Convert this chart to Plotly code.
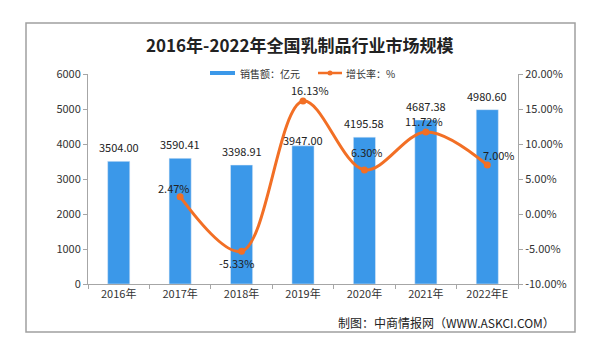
import plotly.graph_objects as go

categories = ["2016年", "2017年", "2018年", "2019年", "2020年", "2021年", "2022年E"]
sales = [3504.00, 3590.41, 3398.91, 3947.00, 4195.58, 4687.38, 4980.60]
growth_cats = ["2017年", "2018年", "2019年", "2020年", "2021年", "2022年E"]
growth = [2.47, -5.33, 16.13, 6.30, 11.72, 7.00]
left_ticks = [0, 1000, 2000, 3000, 4000, 5000, 6000]
right_ticks = [-10, -5, 0, 5, 10, 15, 20]

BAR = "#3b98e9"
LINE = "#f26f25"
FONT = "Noto Sans CJK SC"

fig = go.Figure()
fig.add_trace(go.Bar(x=categories, y=sales, marker_color=BAR, width=0.36,
                     showlegend=False, hoverinfo="skip"))
fig.add_trace(go.Scatter(x=growth_cats, y=growth, yaxis="y2", mode="lines+markers",
                         line=dict(color=LINE, width=3, shape="spline", smoothing=1.0),
                         marker=dict(color=LINE, size=7), showlegend=False,
                         hoverinfo="skip"))

annotations = []
bar_shift = [4, 4, 4, -4, 4, 4, 4]
for c, v, s in zip(categories, sales, bar_shift):
    annotations.append(dict(x=c, y=v, xref="x", yref="y", text=f"{v:.2f}",
                            showarrow=False, yanchor="bottom", yshift=s,
                            font=dict(size=11, color="#222", family=FONT)))
line_off = [(-6, 9), (-5, -12), (7, 11), (3, 18), (-2, 11), (12, 10)]
for c, v, (dx, dy) in zip(growth_cats, growth, line_off):
    annotations.append(dict(x=c, y=v, xref="x", yref="y2", text=f"{v:.2f}%",
                            showarrow=False, xshift=dx, yshift=dy,
                            font=dict(size=11, color="#222", family=FONT)))

# title, legend text and footer (pixel positions, converted below)
annotations += [
    dict(x=300, y=44, text="<b>2016年-2022年全国乳制品行业市场规模</b>", xanchor="center",
         font=dict(size=17, color="#222", family=FONT)),
    dict(x=238, y=73, text="销售额：亿元", xanchor="left",
         font=dict(size=10, color="#333", family=FONT)),
    dict(x=344, y=73, text="增长率：%", xanchor="left",
         font=dict(size=10, color="#333", family=FONT)),
    dict(x=557, y=322, text="制图：中商情报网（WWW.ASKCI.COM）", xanchor="right",
         font=dict(size=12, color="#222", family=FONT)),
]

W, H = 600, 339
ml, mr, mt, mb = 88, 82, 74, 55
pw, ph = W - ml - mr, H - mt - mb


def px_x(p):
    return (p - ml) / pw


def px_y(p):
    return (H - mb - p) / ph


for a in annotations:
    if a.get("xref") is None:
        a["xref"] = "paper"
        a["yref"] = "paper"
        a["x"] = px_x(a["x"])
        a["y"] = px_y(a["y"])
        a["yanchor"] = "middle"
        a["showarrow"] = False

shapes = [
    dict(type="rect", xref="paper", yref="paper", x0=px_x(26), x1=px_x(575),
         y0=px_y(23), y1=px_y(332), line=dict(color="#a0a0a0", width=1.5), layer="below"),
    dict(type="rect", xref="paper", yref="paper", x0=px_x(210), x1=px_x(235),
         y0=px_y(75), y1=px_y(71), fillcolor=BAR, line=dict(width=0)),
    dict(type="line", xref="paper", yref="paper", x0=px_x(318), x1=px_x(342),
         y0=px_y(73), y1=px_y(73), line=dict(color=LINE, width=2.5)),
    dict(type="circle", xref="paper", yref="paper", x0=px_x(327.5), x1=px_x(332.5),
         y0=px_y(75.5), y1=px_y(70.5), fillcolor=LINE, line=dict(width=0)),
]

fig.update_layout(
    width=W, height=H, margin=dict(l=ml, r=mr, t=mt, b=mb),
    paper_bgcolor="white", plot_bgcolor="white",
    font=dict(family=FONT, size=11, color="#333"),
    xaxis=dict(type="category", showline=True, linecolor="#a6a6a6", linewidth=1,
               ticks="outside", tickson="boundaries", ticklen=4, tickcolor="#a6a6a6",
               showgrid=False, tickfont=dict(size=11, color="#333")),
    yaxis=dict(range=[0, 6000], tickvals=left_ticks, showline=True, linecolor="#a6a6a6",
               ticks="outside", ticklen=4, tickcolor="#a6a6a6", showgrid=False,
               zeroline=False, tickfont=dict(size=11, color="#333")),
    yaxis2=dict(range=[-10, 20], tickvals=right_ticks, overlaying="y", side="right",
                ticktext=[f"{v:.2f}%" for v in right_ticks], tickmode="array",
                showline=True, linecolor="#a6a6a6", ticks="outside", ticklen=4,
                tickcolor="#a6a6a6", showgrid=False, zeroline=False,
                tickfont=dict(size=11, color="#333")),
    annotations=annotations,
    shapes=shapes,
)

fig.write_html("out.html")
